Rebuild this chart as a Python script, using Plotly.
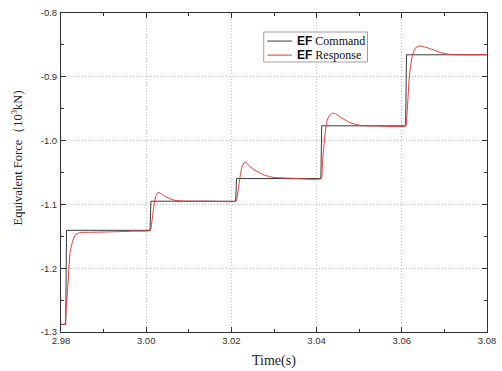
import plotly.graph_objects as go

# Command (step) signal
cmd_t = [2.9800, 2.9811, 2.9813, 3.0009, 3.0011, 3.0210, 3.0212, 3.0410, 3.0412, 3.0609, 3.0611, 3.0800]
cmd_v = [-1.288, -1.288, -1.1406, -1.1406, -1.095, -1.095, -1.0595, -1.0595, -0.9768, -0.9768, -0.8655, -0.8655]

# Response signal
resp_t = [2.9800, 2.9809, 2.9812, 2.9816, 2.9821, 2.9828, 2.9835, 2.9841, 2.9847, 2.9870, 2.9920, 2.9970, 3.0010,
          3.0012, 3.0015, 3.0019, 3.0023, 3.0028, 3.0033, 3.0040, 3.0047, 3.0056, 3.0066, 3.0090, 3.0150, 3.0211,
          3.0213, 3.0216, 3.0220, 3.0225, 3.0231, 3.0236, 3.0244, 3.0254, 3.0265, 3.0277, 3.0290, 3.0300, 3.0340, 3.0411,
          3.0413, 3.0416, 3.0420, 3.0425, 3.0431, 3.0438, 3.0446, 3.0460, 3.0472, 3.0483, 3.0495, 3.0506, 3.0540, 3.0609,
          3.0611, 3.0614, 3.0618, 3.0625, 3.0633, 3.0643, 3.0655, 3.0667, 3.0680, 3.0690, 3.0702, 3.0713, 3.0740, 3.0800]
resp_v = [-1.288, -1.288, -1.263, -1.229, -1.177, -1.156, -1.147, -1.145, -1.144, -1.1437, -1.1430, -1.1420, -1.1410,
          -1.134, -1.118, -1.098, -1.086, -1.081, -1.0825, -1.0855, -1.0885, -1.091, -1.0935, -1.0948, -1.095, -1.095,
          -1.090, -1.077, -1.058, -1.041, -1.034, -1.0355, -1.041, -1.046, -1.050, -1.054, -1.0565, -1.0578, -1.059, -1.0595,
          -1.045, -1.016, -0.989, -0.968, -0.960, -0.957, -0.9585, -0.965, -0.9695, -0.973, -0.975, -0.9765, -0.977, -0.977,
          -0.968, -0.939, -0.897, -0.866, -0.854, -0.8517, -0.8535, -0.856, -0.859, -0.862, -0.8635, -0.865, -0.8655, -0.8655]

x_ticks = [2.98, 3.00, 3.02, 3.04, 3.06, 3.08]
x_labels = ["2.98", "3.00", "3.02", "3.04", "3.06", "3.08"]
y_ticks = [-1.3, -1.2, -1.1, -1.0, -0.9, -0.8]
y_labels = ["-1.3", "-1.2", "-1.1", "-1.0", "-0.9", "-0.8"]

series_names = ["<span style='font-family:Liberation Sans'><b>EF</b></span> Command",
                "<span style='font-family:Liberation Sans'><b>EF</b></span> Response"]
series_colors = ["#3a3a3a", "#e2373c"]

SANS = "Liberation Sans, Arial, sans-serif"
SERIF = "Liberation Serif, Times New Roman, serif"

fig = go.Figure()
fig.add_trace(go.Scatter(
    x=cmd_t, y=cmd_v, mode="lines",
    line=dict(color=series_colors[0], width=1),
    name=series_names[0], showlegend=False,
))
fig.add_trace(go.Scatter(
    x=resp_t, y=resp_v, mode="lines",
    line=dict(color=series_colors[1], width=1, shape="spline", smoothing=0.5),
    name=series_names[1], showlegend=False,
))

axis_common = dict(
    showline=True, linecolor="#333333", linewidth=1, mirror="allticks",
    ticks="inside", ticklen=5, tickcolor="#333333", tickwidth=1,
    showgrid=True, gridcolor="#c4c4c4", gridwidth=1, griddash="1px,2px",
    zeroline=False,
    tickfont=dict(family=SANS, size=9.5, color="#333333"),
    ticklabeloverflow="allow",
)

fig.update_xaxes(
    range=[2.98, 3.08], tickvals=x_ticks, ticktext=x_labels,
    minor=dict(dtick=0.01, tick0=2.98, ticks="inside", ticklen=3, tickcolor="#333333", showgrid=False),
    **axis_common,
)
fig.update_yaxes(
    range=[-1.3, -0.8], tickvals=y_ticks, ticktext=y_labels,
    minor=dict(dtick=0.05, tick0=-1.3, ticks="inside", ticklen=3, tickcolor="#333333", showgrid=False),
    ticklabelstandoff=1,
    **axis_common,
)

fig.add_annotation(
    text="Time(s)", xref="paper", yref="paper", x=0.5, y=0, yshift=-29,
    xanchor="center", yanchor="middle", showarrow=False,
    font=dict(family=SERIF, size=14, color="#222222"),
)
fig.add_annotation(
    text="Equivalent Force（10<sup>3</sup>kN)", xref="paper", yref="paper",
    x=0, xshift=-45, y=0.5, yshift=14, textangle=-90,
    xanchor="center", yanchor="middle", showarrow=False,
    font=dict(family=SERIF, size=12.5, color="#222222"),
)

# Legend box (drawn in paper coordinates)
fig.add_shape(type="rect", xref="paper", yref="paper",
              x0=0.4759, x1=0.7195, y0=0.8464, y1=0.9404,
              line=dict(color="#a0a0a0", width=1), fillcolor="white", layer="above")
legend_rows = [0.912, 0.868]
for name, color, yy in zip(series_names, series_colors, legend_rows):
    fig.add_shape(type="line", xref="paper", yref="paper",
                  x0=0.4844, x1=0.5418, y0=yy, y1=yy,
                  line=dict(color=color, width=1), layer="above")
    fig.add_annotation(text=name, xref="paper", yref="paper", x=0.5494, y=yy,
                       xanchor="left", yanchor="middle", showarrow=False,
                       font=dict(family=SERIF, size=12, color="#111111"))

fig.update_layout(
    width=502, height=371,
    margin=dict(l=61, r=6, t=13, b=39),
    paper_bgcolor="white", plot_bgcolor="white",
    showlegend=False,
)

fig.write_html("out.html")
